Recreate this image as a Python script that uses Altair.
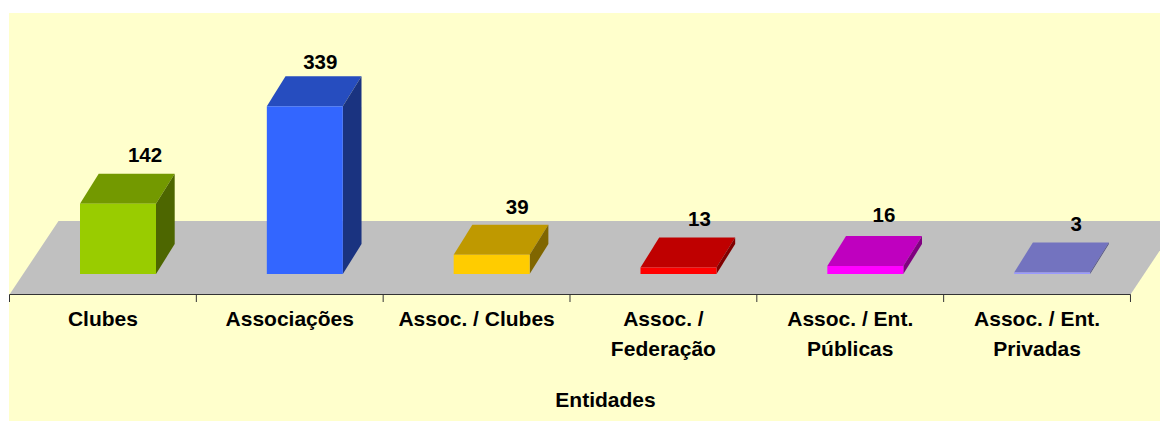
import altair as alt
import pandas as pd

# --- values
categories = ["Clubes", "Associações", "Assoc. / Clubes", "Assoc. /\nFederação",
              "Assoc. / Ent.\nPúblicas", "Assoc. / Ent.\nPrivadas"]
values = [142, 339, 39, 13, 16, 3]
front_colors = ["#99CC00", "#3366FF", "#FFCC00", "#FF0000", "#FF00FF", "#9999FF"]
top_colors = ["#739900", "#264DBF", "#BF9900", "#BF0000", "#BF00BF", "#7373BF"]
side_colors = ["#4D6600", "#1A3380", "#806600", "#800000", "#800080", "#4D4D80"]

# --- layout of the perspective (x in category slots, y in value units)
W, H = 1151, 408
SLOT = 186.83
PX_PER_UNIT = 0.495
BASE_PX = 261
X0_PX = 0.5
x_scale = alt.Scale(domain=[-X0_PX / SLOT, (W - X0_PX) / SLOT], nice=False, zero=False)
y_scale = alt.Scale(domain=[-(H - BASE_PX) / PX_PER_UNIT, BASE_PX / PX_PER_UNIT], nice=False, zero=False)
BAR_OFF = 70.5 / SLOT
BAR_W = 76 / SLOT
DEPTH_X = 18.7 / SLOT
DEPTH_Y = 30 / PX_PER_UNIT
FLOOR_DX = 49 / SLOT
FLOOR_FRONT = -20.5 / PX_PER_UNIT
FLOOR_BACK = 53 / PX_PER_UNIT
TICK = 7.5 / PX_PER_UNIT
LABEL_X = 60 / SLOT
label_nudges = [(5, -42), (-6.5, -37), (3.5, -41), (-1, -42), (-3.3, -44), (2, -42)]

X = alt.X("x:Q", scale=x_scale, axis=None)
Y = alt.Y("y:Q", scale=y_scale, axis=None)
Y2 = alt.Y2("y2")

front, tops, sides = [], [], []
for i, (v, c) in enumerate(zip(values, categories)):
    left = i + BAR_OFF
    right = left + BAR_W
    front.append(dict(x=left, x2=right, y=v, y2=0, fill=front_colors[i]))
    for x, y, y2 in [(left, v, v), (left + DEPTH_X, v + DEPTH_Y, v),
                     (right, v + DEPTH_Y, v), (right + DEPTH_X, v + DEPTH_Y, v + DEPTH_Y)]:
        tops.append(dict(id=i, x=x, y=y, y2=y2, fill=top_colors[i]))
    for x, y, y2 in [(right, v, 0), (right + DEPTH_X, v + DEPTH_Y, DEPTH_Y)]:
        sides.append(dict(id=i, x=x, y=y, y2=y2, fill=side_colors[i]))

n = len(categories)
floor = pd.DataFrame([
    dict(x=0, y=FLOOR_FRONT, y2=FLOOR_FRONT),
    dict(x=FLOOR_DX, y=FLOOR_BACK, y2=FLOOR_FRONT),
    dict(x=n, y=FLOOR_BACK, y2=FLOOR_FRONT),
    dict(x=n + FLOOR_DX, y=FLOOR_BACK, y2=FLOOR_BACK),
])


def faces(rows, colors):
    return alt.Chart(pd.DataFrame(rows)).mark_area().encode(
        x=X, y=Y, y2=Y2,
        color=alt.Color("id:N", scale=alt.Scale(domain=list(range(n)), range=colors), legend=None))


layers = [
    alt.Chart(floor).mark_area(color="#C0C0C0").encode(x=X, y=Y, y2=Y2),
    faces(tops, top_colors),
    faces(sides, side_colors),
    alt.Chart(pd.DataFrame(front)).mark_rect().encode(
        x=X, x2="x2:Q", y=Y, y2="y2:Q", fill=alt.Fill("fill:N", scale=None)),
    # axis line and ticks
    alt.Chart(pd.DataFrame([dict(x=0, x2=n, y=FLOOR_FRONT)])).mark_rule(color="#333333", strokeWidth=1).encode(
        x=X, x2="x2:Q", y=Y),
    alt.Chart(pd.DataFrame([dict(x=i, y=FLOOR_FRONT, y2=FLOOR_FRONT - TICK) for i in range(n + 1)]))
    .mark_rule(color="#333333", strokeWidth=1).encode(x=X, y=Y, y2="y2:Q"),
]

font = dict(font="Liberation Sans", fontWeight="bold", color="black", baseline="alphabetic", align="center")

# category labels
layers.append(
    alt.Chart(pd.DataFrame(dict(x=[i + 0.5 for i in range(n)], label=categories)))
    .mark_text(lineBreak="\n", lineHeight=29.5, fontSize=21, **font)
    .encode(x=X, y=alt.value(313), text="label:N"))

# axis title
layers.append(
    alt.Chart(pd.DataFrame(dict(x=[n / 2 + 0.19], label=["Entidades"])))
    .mark_text(fontSize=21, **font)
    .encode(x=X, y=alt.value(393.5), text="label:N"))

# value labels
for i, v in enumerate(values):
    dx, dy = label_nudges[i]
    layers.append(
        alt.Chart(pd.DataFrame(dict(x=[i + BAR_OFF + LABEL_X], y=[v], label=[str(v)])))
        .mark_text(dx=dx, dy=dy, fontSize=20.5, **font)
        .encode(x=X, y=Y, text="label:N"))

chart = alt.layer(*layers).resolve_scale(color="independent").properties(
    width=W, height=H,
    padding={"left": 1, "top": 5, "right": 0, "bottom": 0},
    autosize=alt.AutoSizeParams(type="none"),
    background="white",
).configure_view(fill="#FFFFCC", stroke=None)

chart.save("out.html", embed_options={"renderer": "svg", "actions": False})
